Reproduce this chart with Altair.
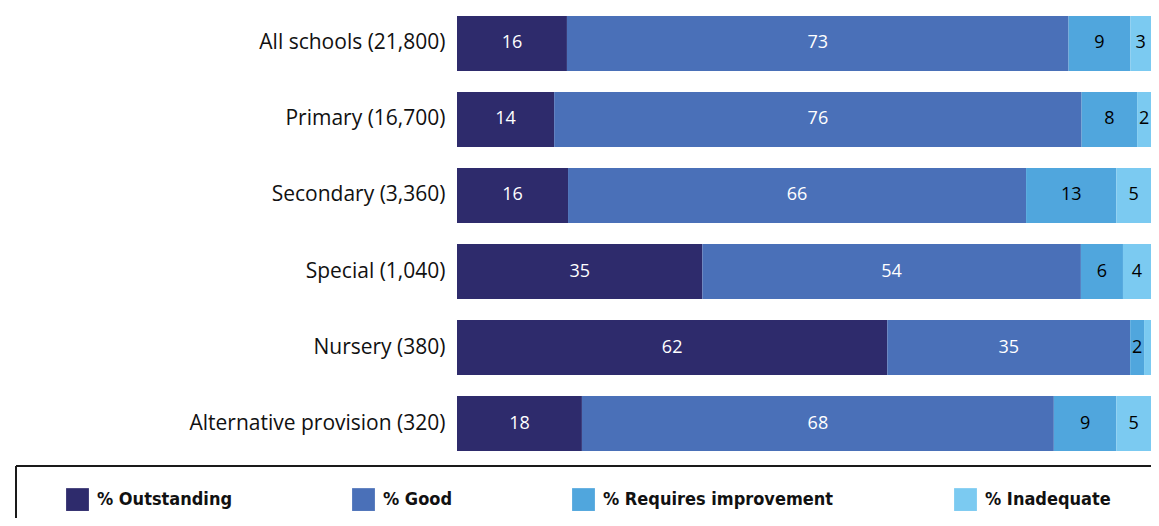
import altair as alt
import pandas as pd

categories = ["All schools (21,800)", "Primary (16,700)", "Secondary (3,360)",
              "Special (1,040)", "Nursery (380)", "Alternative provision (320)"]
series = ["% Outstanding", "% Good", "% Requires improvement", "% Inadequate"]
outstanding = [16, 14, 16, 35, 62, 18]
good = [73, 76, 66, 54, 35, 68]
requires_improvement = [9, 8, 13, 6, 2, 9]
inadequate = [3, 2, 5, 4, 1, 5]
colors = ["#2E2B6C", "#4A70B8", "#50A6DD", "#7BCAF1"]
text_colors = ["white", "white", "black", "black"]

rows = []
for ci, cat in enumerate(categories):
    for si, (s, vals) in enumerate(zip(series, [outstanding, good, requires_improvement, inadequate])):
        rows.append({"category": cat, "series": s, "order": si, "value": vals[ci],
                     "tcolor": text_colors[si]})
df = pd.DataFrame(rows)

LEG_FONT = "Liberation Sans Narrow, DejaVu Sans Condensed, Roboto"
CAT_FONT = "Open Sans"

base = alt.Chart(df).transform_joinaggregate(
    total="sum(value)", groupby=["category"]
).transform_calculate(
    pct="datum.value / datum.total"
).transform_stack(
    stack="pct", as_=["start", "end"], groupby=["category"], sort=[alt.SortField("order")]
).transform_calculate(
    mid="(datum.start + datum.end) / 2"
)

xscale = alt.Scale(domain=[0, 1], nice=False, zero=True)
yenc = alt.Y("category:N", sort=categories,
             scale=alt.Scale(paddingInner=0.276, paddingOuter=0.105),
             axis=alt.Axis(title=None, domain=False, ticks=False, labelPadding=12,
                           labelFontSize=21, labelFont=CAT_FONT, labelColor="#111",
                           labelLimit=400))

bars = base.mark_bar(clip=True).encode(
    x=alt.X("start:Q", scale=xscale, axis=None),
    x2="end:Q",
    y=yenc,
    color=alt.Color("series:N", sort=series,
                    scale=alt.Scale(domain=series, range=colors),
                    legend=alt.Legend(title=None, orient="none", direction="horizontal",
                                      legendX=-391, legendY=480, symbolType="square",
                                      symbolSize=520, symbolStrokeWidth=0, labelOffset=8,
                                      columnPadding=120, labelFontSize=18, labelLimit=400,
                                      labelFontWeight="bold", labelFont=LEG_FONT,
                                      labelColor="#111", symbolOpacity=1)),
)

labels = base.transform_filter("datum.value >= 2").mark_text(
    clip=True, fontSize=18, font=CAT_FONT, fontWeight=500, align="center", baseline="middle"
).encode(
    x=alt.X("mid:Q", scale=xscale),
    y=alt.Y("category:N", sort=categories),
    text="value:Q",
    color=alt.Color("tcolor:N", scale=None, legend=None),
)

box_top = alt.Chart(pd.DataFrame({"a": [0]})).mark_rule(color="#1a1a1a", strokeWidth=2).encode(
    x=alt.value(-441), x2=alt.value(700), y=alt.value(458))
box_left = alt.Chart(pd.DataFrame({"a": [0]})).mark_rule(color="#1a1a1a", strokeWidth=2).encode(
    x=alt.value(-441), y=alt.value(458), y2=alt.value(520))

chart = alt.layer(bars, labels, box_top, box_left).properties(
    width=694, height=451,
    autosize=alt.AutoSizeParams(type="none"),
    padding={"left": 449, "top": 0, "right": 0, "bottom": 59},
).configure_view(stroke=None)

chart.save("out.html", embed_options={"renderer": "svg", "actions": False})
